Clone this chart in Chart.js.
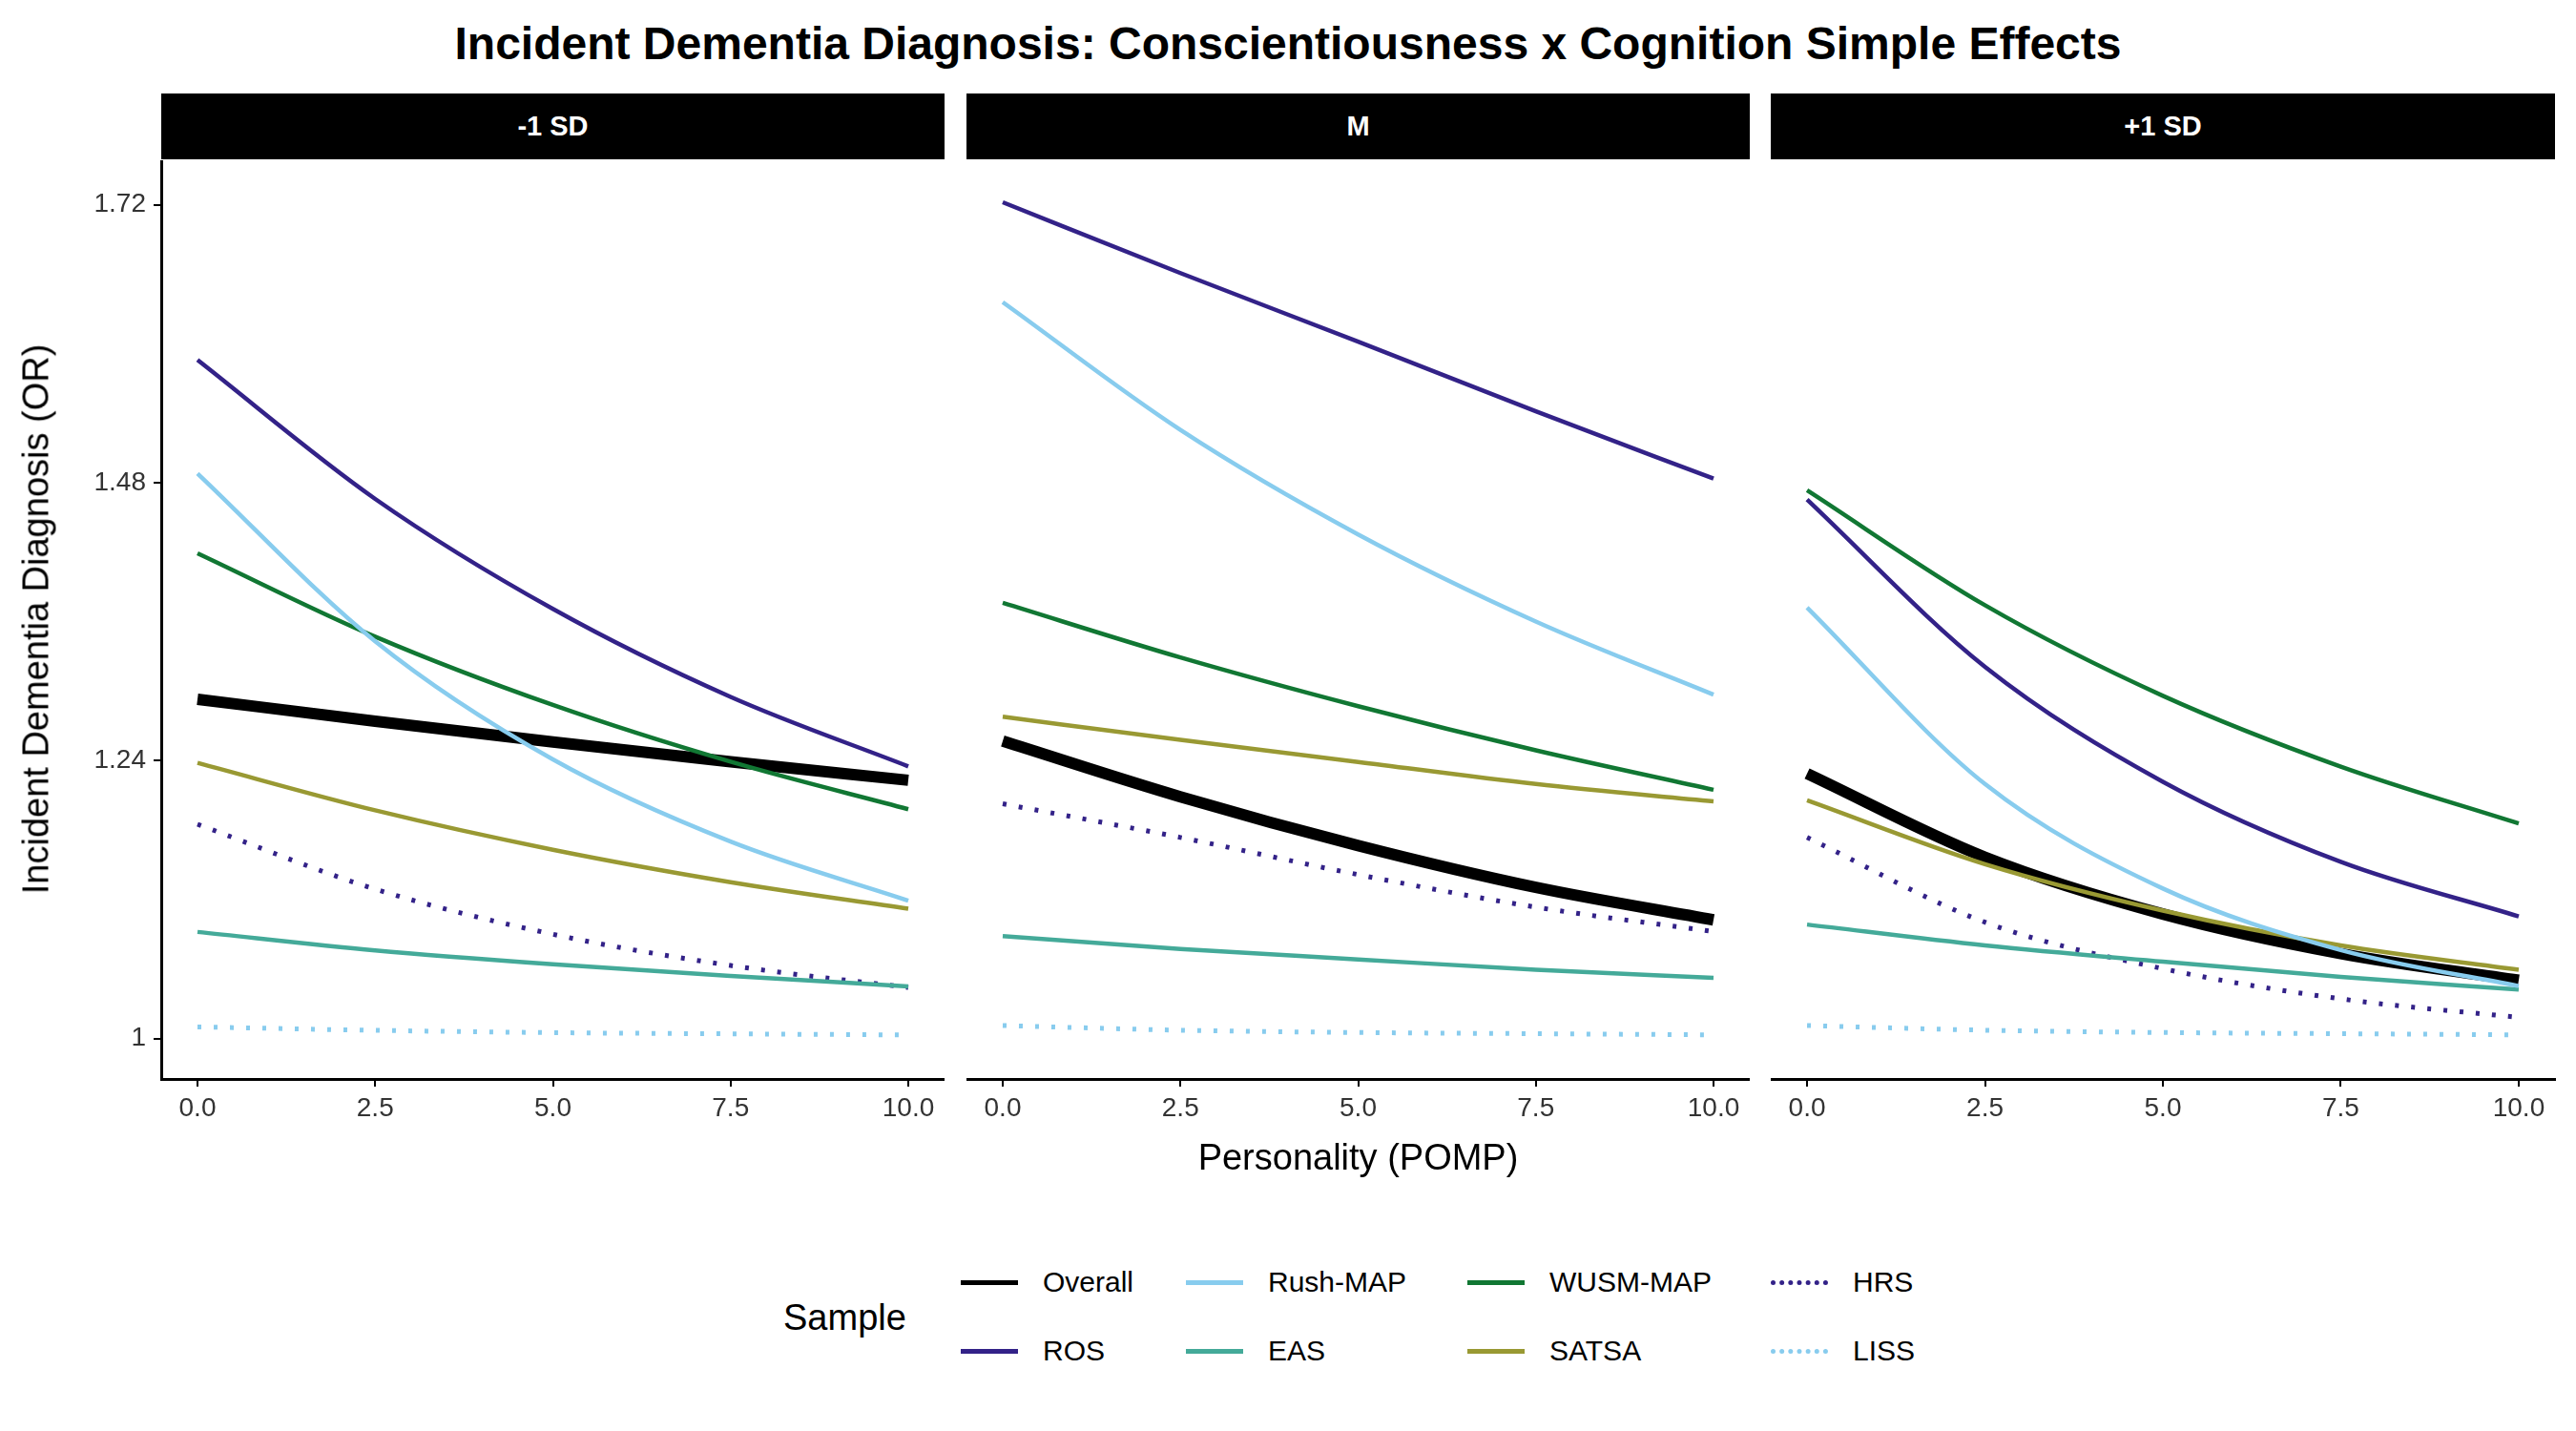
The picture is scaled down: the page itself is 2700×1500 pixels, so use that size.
<!DOCTYPE html>
<html>
<head>
<meta charset="utf-8">
<script src="https://cdn.jsdelivr.net/npm/chart.js@4.4.1/dist/chart.umd.min.js"></script>
<style>
  body { margin: 0; width: 2700px; height: 1500px; background: #fff; font-family: "Liberation Sans", Arial, sans-serif; position: relative; overflow: hidden; }
  .abs { position: absolute; }
  #title { left: 0; width: 2700px; top: 18px; text-align: center; font-size: 48px; font-weight: bold; }
  .strip { top: 98px; height: 69px; background: #000; color: #fff; font-weight: bold; font-size: 29px; display: flex; align-items: center; justify-content: center; }
  canvas { position: absolute; }
  #xtitle { left: 169px; width: 2509px; top: 1192px; text-align: center; font-size: 38px; }
  #ytitle { left: 38px; top: 649px; font-size: 38px; transform: translate(-50%, -50%) rotate(-90deg); white-space: nowrap; }
  .leg { font-size: 30px; display: flex; align-items: center; }
  .sw { width: 60px; height: 0; margin-right: 26px; }
</style>
</head>
<body>
<div id="title" class="abs">Incident Dementia Diagnosis: Conscientiousness x Cognition Simple Effects</div>
<div class="abs strip" style="left:169px;width:821px">-1 SD</div>
<div class="abs strip" style="left:1013px;width:821px">M</div>
<div class="abs strip" style="left:1856px;width:822px">+1 SD</div>
<canvas id="c0" style="left:0px;top:145px" width="990" height="1055"></canvas>
<canvas id="c1" style="left:1013px;top:167px" width="821" height="1033"></canvas>
<canvas id="c2" style="left:1856px;top:167px" width="844" height="1033"></canvas>
<div id="xtitle" class="abs">Personality (POMP)</div>
<div id="ytitle" class="abs">Incident Dementia Diagnosis (OR)</div>
<div id="legend"></div>
<script>
// Personality values where the curves were read
const xs = [0, 2.5, 5, 7.5, 10];
const panels = ['-1 SD', 'M', '+1 SD'];
const yTicks = [1, 1.24, 1.48, 1.72];
const xTicks = [0, 2.5, 5, 7.5, 10];

const samples = ['Overall', 'ROS', 'Rush-MAP', 'EAS', 'WUSM-MAP', 'SATSA', 'HRS', 'LISS'];

// odds ratios per panel (-1 SD, M, +1 SD)
const overall = [[1.293, 1.274, 1.256, 1.239, 1.223], [1.256, 1.208, 1.166, 1.130, 1.102], [1.228, 1.156, 1.107, 1.073, 1.050]];
const ros     = [[1.586, 1.466, 1.371, 1.295, 1.235], [1.720, 1.659, 1.600, 1.540, 1.482], [1.464, 1.320, 1.221, 1.152, 1.105]];
const rushMap = [[1.488, 1.343, 1.241, 1.170, 1.119], [1.634, 1.524, 1.434, 1.359, 1.296], [1.371, 1.219, 1.129, 1.076, 1.045]];
const eas     = [[1.092, 1.076, 1.064, 1.054, 1.045], [1.088, 1.077, 1.068, 1.059, 1.052], [1.098, 1.080, 1.066, 1.053, 1.042]];
const wusmMap = [[1.419, 1.347, 1.288, 1.239, 1.198], [1.375, 1.328, 1.286, 1.248, 1.214], [1.472, 1.373, 1.295, 1.234, 1.185]];
const satsa   = [[1.238, 1.197, 1.163, 1.135, 1.112], [1.277, 1.257, 1.238, 1.219, 1.204], [1.205, 1.150, 1.110, 1.080, 1.059]];
const hrs     = [[1.185, 1.129, 1.090, 1.063, 1.044], [1.202, 1.173, 1.141, 1.113, 1.092], [1.173, 1.100, 1.060, 1.034, 1.018]];
const liss    = [[1.010, 1.007, 1.005, 1.004, 1.003], [1.011, 1.007, 1.005, 1.004, 1.003], [1.011, 1.007, 1.005, 1.004, 1.003]];

const seriesData = [overall, ros, rushMap, eas, wusmMap, satsa, hrs, liss];
const colors = ['#000000', '#332288', '#88CCEE', '#44AA99', '#117733', '#999933', '#332288', '#88CCEE'];
const widths = [12, 4.5, 4.5, 4.5, 4.5, 4.5, 5, 5];
const dashes = [[], [], [], [], [], [], [4, 13], [4, 13]];

function makeChart(id, p) {
  const datasets = samples.map((s, i) => ({
    label: s,
    data: xs.map((x, k) => ({ x: x, y: seriesData[i][p][k] })),
    borderColor: colors[i],
    borderWidth: widths[i],
    borderDash: dashes[i],
    pointRadius: 0,
    cubicInterpolationMode: 'monotone',
    order: i === 0 ? 10 : i
  }));
  new Chart(document.getElementById(id), {
    type: 'line',
    data: { datasets },
    options: {
      responsive: false,
      animation: false,
      layout: { padding: { right: p === 2 ? 22 : 0, top: 0 } },
      plugins: { legend: { display: false }, tooltip: { enabled: false } },
      scales: {
        x: {
          type: 'linear', min: -0.51, max: 10.51,
          afterBuildTicks: ax => { ax.ticks = xTicks.map(v => ({ value: v })); },
          afterFit: ax => { ax.height = 69; },
          ticks: { color: '#333', font: { size: 28, family: 'Liberation Sans' }, callback: v => v.toFixed(1), padding: 6, maxRotation: 0 },
          grid: { display: true, drawOnChartArea: false, drawTicks: true, tickLength: 8, color: '#000', lineWidth: 2 },
          border: { color: '#000', width: 3 }
        },
        y: {
          display: p === 0,
          min: 0.965, max: 1.757,
          afterBuildTicks: ax => { ax.ticks = yTicks.map(v => ({ value: v })); },
          afterFit: ax => { ax.width = p === 0 ? 169 : 0; },
          ticks: { color: '#333', font: { size: 28, family: 'Liberation Sans' }, callback: v => String(v), padding: 8 },
          grid: { display: true, drawOnChartArea: false, drawTicks: true, tickLength: 8, color: '#000', lineWidth: 2 },
          border: { color: '#000', width: 3 }
        }
      }
    }
  });
}
makeChart('c0', 0);
makeChart('c1', 1);
makeChart('c2', 2);

// legend, laid out in columns like the reference
const legend = document.getElementById('legend');
const label = document.createElement('div');
label.className = 'abs';
label.style.cssText = 'left:821px;top:1360px;font-size:38px';
label.textContent = 'Sample';
legend.appendChild(label);
const colX = [1007, 1243, 1538, 1856];
const rowY = [1347, 1419];
const legOrder = [[0, 1], [2, 3], [4, 5], [6, 7]];
legOrder.forEach((col, c) => col.forEach((i, r) => {
  const item = document.createElement('div');
  item.className = 'abs leg';
  item.style.left = colX[c] + 'px';
  item.style.top = (rowY[r] - 20) + 'px';
  const sw = document.createElement('div');
  sw.className = 'sw';
  const style = dashes[i].length ? 'dotted' : 'solid';
  sw.style.borderTop = `5px ${style} ${colors[i]}`;
  item.appendChild(sw);
  const t = document.createElement('span');
  t.textContent = samples[i];
  item.appendChild(t);
  legend.appendChild(item);
}));
</script>
</body>
</html>
